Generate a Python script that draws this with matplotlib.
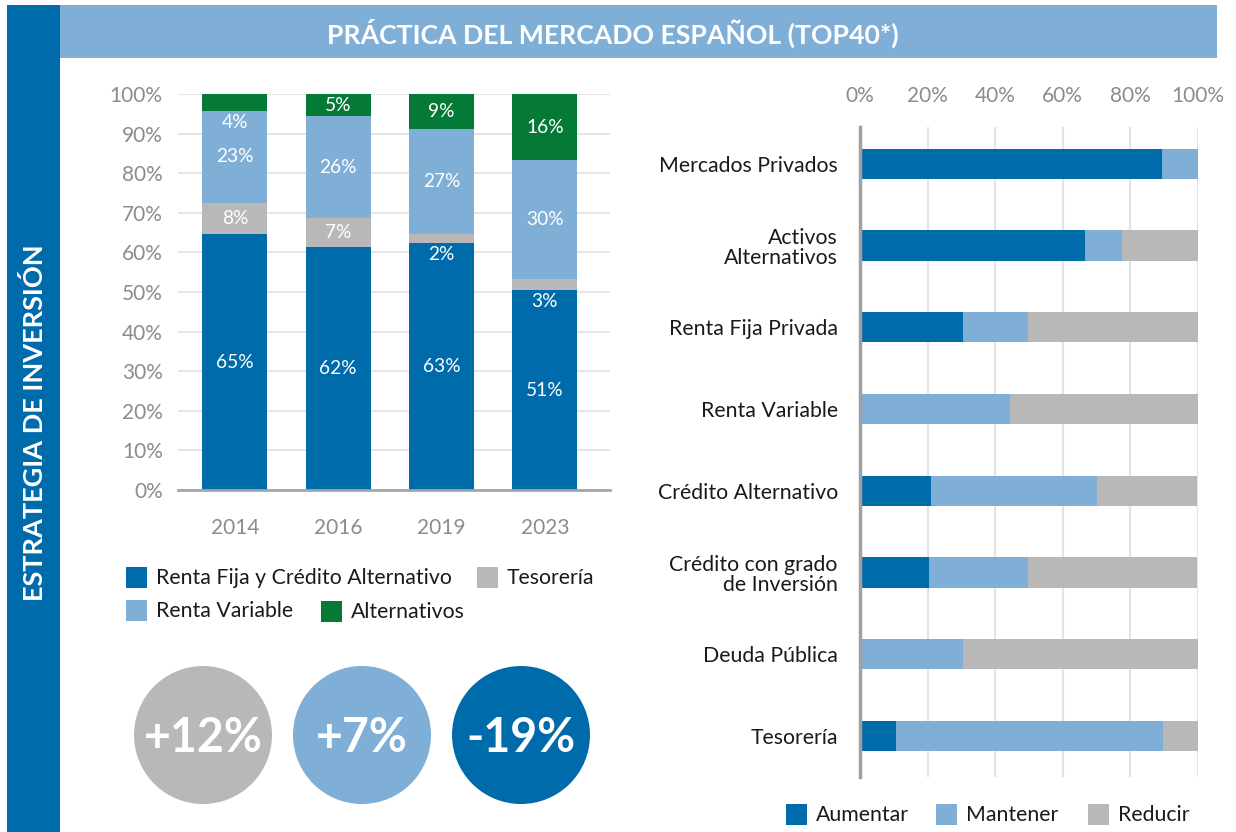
import matplotlib
matplotlib.use("Agg")
import matplotlib.pyplot as plt
from matplotlib.patches import Rectangle, Circle

plt.rcParams["font.family"] = ["Lato", "DejaVu Sans"]

# ---- data ----
years = ["2014", "2016", "2019", "2023"]
renta_fija = [64.6, 61.4, 62.4, 50.5]
tesoreria = [7.9, 7.3, 2.2, 2.8]
renta_variable = [23.2, 25.7, 26.6, 30.0]
alternativos = [4.3, 5.6, 8.8, 16.7]
renta_fija_lbl = [65, 62, 63, 51]
tesoreria_lbl = [8, 7, 2, 3]
renta_variable_lbl = [23, 26, 27, 30]
alternativos_lbl = [4, 5, 9, 16]

categorias = ["Mercados Privados", "Activos\nAlternativos", "Renta Fija Privada",
              "Renta Variable", "Crédito Alternativo", "Crédito con grado\nde Inversión",
              "Deuda Pública", "Tesorería"]
aumentar = [89.3, 66.7, 30.4, 0, 21.0, 20.4, 0, 10.6]
mantener = [10.7, 10.9, 19.2, 44.3, 49.0, 29.2, 30.4, 78.9]
reducir = [0, 22.4, 50.4, 55.7, 29.7, 50.1, 69.6, 10.5]

cambios = ["+12%", "+7%", "-19%"]

DARK = "#006BAA"
LIGHT = "#7FAFD7"
GREY = "#B9B8B9"
GREEN = "#057A36"
TICK = "#8C8C8C"
TXT = "#1A1A1A"

W, H = 1236, 832
fig = plt.figure(figsize=(W / 100, H / 100), dpi=100)

# ---- background / decoration layer in pixel coords ----
bg = fig.add_axes([0, 0, 1, 1], zorder=0)
bg.set_xlim(0, W)
bg.set_ylim(H, 0)
bg.axis("off")
bg.add_patch(Rectangle((7, 5), 53, H - 5, color=DARK, lw=0))
bg.add_patch(Rectangle((60, 5), 1157, 53, color=LIGHT, lw=0))
bg.text(613, 33, "PRÁCTICA DEL MERCADO ESPAÑOL (TOP40*)", color="white",
        fontsize=19.2, fontweight="bold", ha="center", va="center")
bg.text(35, 423, "ESTRATEGIA DE INVERSIÓN", color="white", fontsize=19.5,
        fontweight="bold", rotation=90, ha="center", va="center")

# circles with changes
for cx, col, txt in zip([203, 362, 521], [GREY, LIGHT, DARK], cambios):
    bg.add_patch(Circle((cx, 735), 69, color=col, lw=0))
    bg.text(cx, 738, txt, color="white", fontsize=33.5, fontweight="bold",
            ha="center", va="center")

# left legend (flow layout)
leg_left = [("Renta Fija y Crédito Alternativo", DARK, 126, 577),
            ("Tesorería", GREY, 477, 577),
            ("Renta Variable", LIGHT, 126, 610),
            ("Alternativos", GREEN, 321, 611)]
for lab, col, x, y in leg_left:
    bg.add_patch(Rectangle((x, y - 10.5), 21, 21, color=col, lw=0))
    bg.text(x + 30, y + 1, lab, color=TXT, fontsize=15.3, ha="left", va="center")

leg_right = [("Aumentar", DARK, 786), ("Mantener", LIGHT, 936), ("Reducir", GREY, 1088)]
for lab, col, x in leg_right:
    bg.add_patch(Rectangle((x, 804), 21, 21, color=col, lw=0))
    bg.text(x + 30, 815, lab, color=TXT, fontsize=15.3, ha="left", va="center")

# ---- left: stacked columns ----
ax = fig.add_axes([178 / W, 1 - 490 / H, 432 / W, 396 / H], zorder=2)
ax.patch.set_alpha(0)
xs = list(range(len(years)))
bw = 0.63
series = [(renta_fija, renta_fija_lbl, DARK), (tesoreria, tesoreria_lbl, GREY),
          (renta_variable, renta_variable_lbl, LIGHT), (alternativos, alternativos_lbl, GREEN)]
bottom = [0.0] * len(years)
for vals, lbls, col in series:
    ax.bar(xs, vals, bw, bottom=bottom, color=col, zorder=3)
    for i, (v, l) in enumerate(zip(vals, lbls)):
        y = bottom[i] + v / 2 if v >= 5 else bottom[i] - 3
        ax.text(xs[i], y, f"{l}%", color="white", fontsize=13.8, ha="center",
                va="center", zorder=4)
    bottom = [b + v for b, v in zip(bottom, vals)]

ax.set_xlim(-0.55, 3.63)
ax.set_ylim(0, 100)
ax.set_yticks(range(0, 101, 10))
ax.set_yticklabels([f"{t}%" for t in range(0, 101, 10)])
ax.set_xticks(xs)
ax.set_xticklabels(years)
ax.tick_params(axis="y", length=0, pad=11, labelsize=15, labelcolor=TICK)
ax.tick_params(axis="x", length=0, pad=20, labelsize=15, labelcolor=TICK)
ax.grid(axis="y", color="#E2E2E2", lw=1.2, zorder=0)
ax.set_axisbelow(True)
for s in ["left", "right", "top"]:
    ax.spines[s].set_visible(False)
ax.spines["bottom"].set_color("#A6A6A6")
ax.spines["bottom"].set_linewidth(2)
ax.spines["bottom"].set_zorder(5)

# ---- right: horizontal stacked bars ----
ax2 = fig.add_axes([860 / W, 1 - 777 / H, 338 / W, 650 / H], zorder=2)
ax2.patch.set_alpha(0)
ys = list(range(len(categorias)))
bh = 0.37
left = [0.0] * len(categorias)
for vals, col in [(aumentar, DARK), (mantener, LIGHT), (reducir, GREY)]:
    ax2.barh(ys, vals, bh, left=left, color=col, zorder=3)
    left = [a + v for a, v in zip(left, vals)]
ax2.set_xlim(0, 100)
ax2.set_ylim(7.5, -0.45)
ax2.set_xticks(range(0, 101, 20))
ax2.set_xticklabels([f"{t}%" for t in range(0, 101, 20)])
ax2.xaxis.tick_top()
ax2.set_yticks(ys)
ax2.set_yticklabels(categorias, linespacing=1.0)
ax2.tick_params(axis="x", length=0, pad=15, labelsize=15, labelcolor=TICK)
ax2.tick_params(axis="y", length=0, pad=16, labelsize=15.3, labelcolor=TXT)
ax2.grid(axis="x", color="#E3E3E3", lw=1.5, zorder=0)
ax2.set_axisbelow(True)
for s in ["right", "top", "bottom"]:
    ax2.spines[s].set_visible(False)
ax2.spines["left"].set_color("#A0A0A0")
ax2.spines["left"].set_linewidth(2.5)
ax2.spines["left"].set_zorder(5)

fig.savefig("out.png", dpi=100)
